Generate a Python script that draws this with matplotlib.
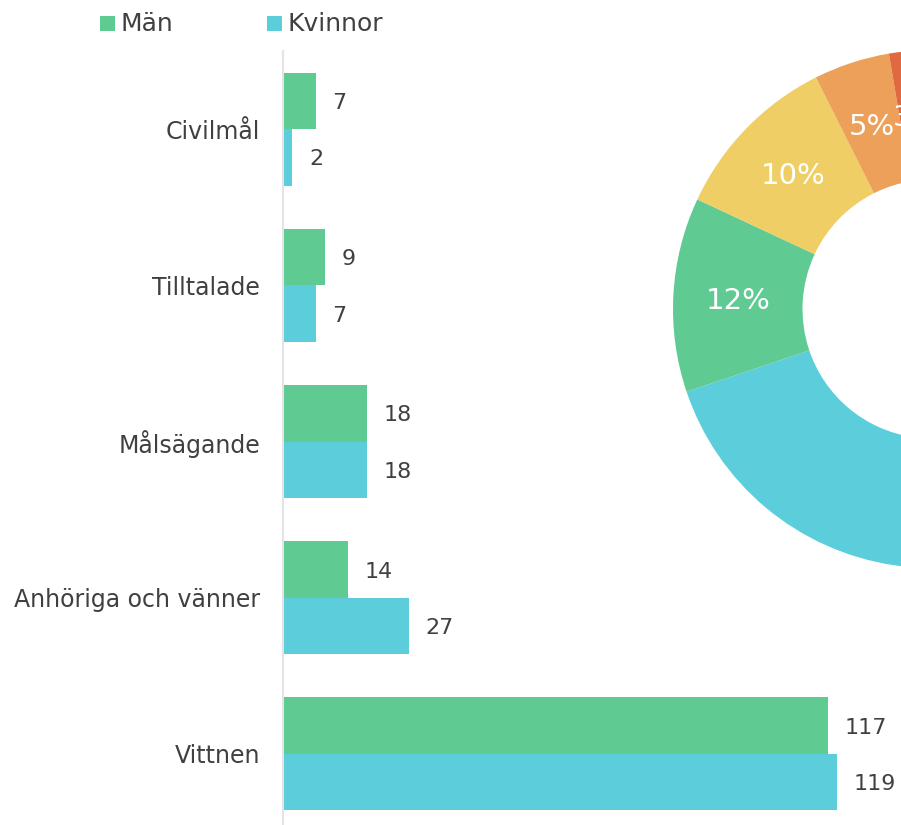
import matplotlib
matplotlib.use("Agg")
import matplotlib.pyplot as plt
from matplotlib.patches import Rectangle
import numpy as np

plt.rcParams['font.family'] = ['DejaVu Sans']

# ---- data ----
categories = ["Civilmål", "Tilltalade", "Målsägande", "Anhöriga och vänner", "Vittnen"]
series_names = ["Män", "Kvinnor"]
man = [7, 9, 18, 14, 117]
kvinnor = [2, 7, 18, 27, 119]
series_colors = ["#5fcb93", "#5ccedb"]

donut_names = ["Vittnen", "Anhöriga och vänner", "Målsägande", "Tilltalade", "Civilmål"]
donut_values = [236, 41, 36, 16, 9]
donut_labels = ["70%", "12%", "10%", "5%", "3%"]
donut_colors = ["#5ccedb", "#5fcb93", "#f0ce66", "#eca05a", "#e0693f"]

W, H = 901, 825
fig = plt.figure(figsize=(W / 100, H / 100), dpi=100)

def px_axes(x0, y0, x1, y1):
    return fig.add_axes([x0 / W, (H - y1) / H, (x1 - x0) / W, (y1 - y0) / H])

# ---- bar chart ----
ax = px_axes(283, 51, 901, 832)
n = len(categories)
y = np.arange(n)
bh = 0.362
ax.barh(y - bh / 2, man, height=bh, color=series_colors[0], linewidth=0)
ax.barh(y + bh / 2, kvinnor, height=bh, color=series_colors[1], linewidth=0)
ax.set_xlim(0, 617 / 4.647)
ax.set_ylim(n - 0.5, -0.5)
for s in ["top", "right", "bottom"]:
    ax.spines[s].set_visible(False)
ax.spines["left"].set_color("#e4e4e4")
ax.spines["left"].set_linewidth(1.5)
ax.set_xticks([])
ax.set_yticks(y)
ax.set_yticklabels(categories, fontsize=17, color="#404040")
ax.tick_params(axis="y", length=0, pad=16.5)
for vals, off in [(man, -bh / 2), (kvinnor, bh / 2)]:
    for i, v in enumerate(vals):
        ax.annotate(str(v), (v, i + off), xytext=(12, -1.5), textcoords="offset points",
                    ha="left", va="center", fontsize=16, color="#404040")

# ---- legend ----
leg_x = [100, 267]
for name, col, lx in zip(series_names, series_colors, leg_x):
    fig.patches.append(Rectangle((lx / W, (H - 31) / H), 15 / W, 15 / H,
                                 transform=fig.transFigure, color=col, linewidth=0))
    fig.text((lx + 20) / W, (H - 24) / H, name, fontsize=18, color="#404040",
             ha="left", va="center")

# ---- donut ----
cx, cy, r = 932, 309, 259
dax = px_axes(cx - r, cy - r, cx + r, cy + r)
wedges, _ = dax.pie(donut_values, colors=donut_colors, startangle=90, counterclock=False,
                    radius=1, wedgeprops=dict(width=0.5, linewidth=0))
for w, lab in zip(wedges, donut_labels):
    ang = np.deg2rad((w.theta1 + w.theta2) / 2)
    dax.text(0.75 * np.cos(ang), 0.75 * np.sin(ang) - 0.01, lab, ha="center", va="center",
             fontsize=21, color="white")
dax.set_xlim(-1, 1)
dax.set_ylim(-1, 1)
dax.set_aspect("equal")
dax.axis("off")

fig.savefig("out.png", dpi=100)
